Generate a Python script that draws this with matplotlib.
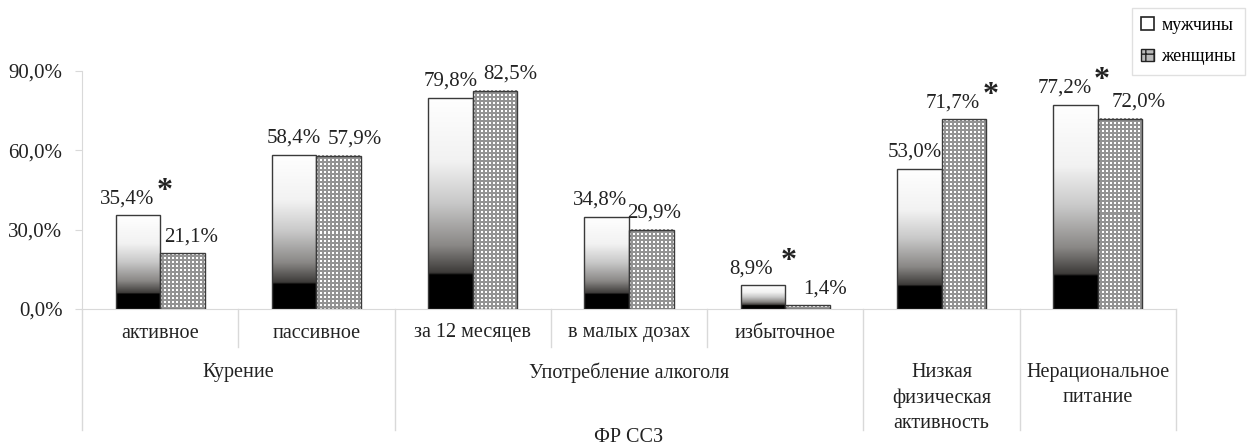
import numpy as np
import matplotlib
matplotlib.use("Agg")
import matplotlib.pyplot as plt
import matplotlib.transforms as mtransforms
from matplotlib.colors import LinearSegmentedColormap
from matplotlib.patches import Patch
from matplotlib.lines import Line2D

plt.rcParams['font.family'] = ['Liberation Serif', 'DejaVu Serif']
plt.rcParams['hatch.linewidth'] = 1.0

# ---- data ----
categories = ["активное", "пассивное", "за 12 месяцев", "в малых дозах", "избыточное",
              "Низкая\nфизическая\nактивность", "Нерациональное\nпитание"]
groups = ["Курение", "Употребление алкоголя"]
group_members = [[0, 1], [2, 3, 4]]
men = [35.4, 58.4, 79.8, 34.8, 8.9, 53.0, 77.2]
women = [21.1, 57.9, 82.5, 29.9, 1.4, 71.7, 72.0]
men_sig = [True, False, False, False, True, False, True]
women_sig = [False, False, False, False, False, True, False]
yticks = [0, 30, 60, 90]
series_names = ["мужчины", "женщины"]
xlabel = "ФР ССЗ"

# label nudges (pixels)
men_dx = [-11, 0, 0, -7, -12, -4, -11]
women_dx = [9, 16, 15, 3, 17, -11, 19]

W, H = 1248, 447
fig = plt.figure(figsize=(W / 100, H / 100), dpi=100)
ax = fig.add_axes([82 / W, (H - 309) / H, (1176 - 82) / W, (309 - 71) / H])
n = len(categories)
x = np.arange(n)
bw = 0.285
ax.set_xlim(-0.5, n - 0.5)
ax.set_ylim(0, 90)

grid_c = '#d9d9d9'
edge_c = '#3a3a3a'

# gradient for men bars
cmap = LinearSegmentedColormap.from_list(
    'g', [(0.0, '#000000'), (0.16, '#000000'), (0.17, '#3c3a38'), (0.3, '#8a8886'),
          (0.5, '#c8c8c8'), (0.7, '#f2f2f2'), (1.0, '#ffffff')])
grad = np.linspace(0, 1, 256).reshape(-1, 1)
for xi, v in zip(x, men):
    ax.imshow(grad, cmap=cmap, origin='lower', aspect='auto',
              extent=(xi - bw, xi, 0, v), zorder=2, interpolation='bilinear')
ax.bar(x - bw / 2, men, width=bw, facecolor='none', edgecolor=edge_c, linewidth=1.0, zorder=3)

# dotted texture for women bars
px_per_x = (1176 - 82) / n
px_per_y = (309 - 71) / 90.0
for xi, v in zip(x, women):
    wpx = max(int(round(bw * px_per_x)), 1)
    hpx = max(int(round(v * px_per_y)), 1)
    rr, cc = np.mgrid[0:hpx, 0:wpx]
    tex = np.where(((rr % 4) < 2) & ((cc % 4) < 2), 1.0, 0.58)
    ax.imshow(tex, cmap='gray', vmin=0, vmax=1, origin='upper', aspect='auto',
              extent=(xi, xi + bw, 0, v), zorder=2, interpolation='nearest')
ax.bar(x + bw / 2, women, width=bw, facecolor='none', edgecolor=edge_c,
       linewidth=1.0, zorder=3)
# restore limits after imshow
ax.set_xlim(-0.5, n - 0.5)
ax.set_ylim(0, 90)

# axes style
for s in ['top', 'right']:
    ax.spines[s].set_visible(False)
ax.spines['left'].set_color(grid_c)
ax.spines['bottom'].set_color(grid_c)
ax.set_yticks(yticks)
ax.set_yticklabels([f"{t:.1f}%".replace('.', ',') for t in yticks], fontsize=15, color='#222222')
ax.tick_params(axis='y', colors=grid_c, length=5, labelcolor='#222222', pad=9)
ax.set_xticks([])

# value labels
def fmt(v):
    return f"{v:.1f}%".replace('.', ',')

for i in range(n):
    for vals, dxs, sig, off in ((men, men_dx, men_sig, -bw / 2), (women, women_dx, women_sig, bw / 2)):
        ax.annotate(fmt(vals[i]), xy=(x[i] + off, vals[i]), xytext=(dxs[i] * 0.72, 5),
                    textcoords='offset points', ha='center', va='bottom',
                    fontsize=15, color='#222222', zorder=5)
        if sig[i]:
            ax.annotate('*', xy=(x[i] + off, vals[i]), xytext=(dxs[i] * 0.72 + 27, 7),
                        textcoords='offset points', ha='center', va='bottom',
                        fontsize=23, fontweight='bold', color='#222222', zorder=5)

# category labels and separators
trans = mtransforms.blended_transform_factory(ax.transData, fig.transFigure)
def fy(py):
    return (H - py) / H

for i, c in enumerate(categories):
    if '\n' in c:
        ax.text(x[i], fy(363), c, transform=trans, ha='center', va='top',
                fontsize=14.5, linespacing=1.45, color='#222222')
    else:
        ax.text(x[i], fy(333), c, transform=trans, ha='center', va='center',
                fontsize=14.5, color='#222222')

for g, mem in zip(groups, group_members):
    ax.text(np.mean([x[m] for m in mem]), fy(373), g, transform=trans, ha='center',
            va='center', fontsize=14.5, color='#222222')

long_b = {-0.5}
for mem in group_members:
    long_b.add(mem[0] - 0.5)
    long_b.add(mem[-1] + 0.5)
for i in range(n):
    if not any(i in mem for mem in group_members):
        long_b.add(i - 0.5)
        long_b.add(i + 0.5)
for b in np.arange(-0.5, n, 1.0):
    y1 = fy(430) if b in long_b else fy(347)
    ax.add_line(Line2D([b, b], [fy(309), y1], transform=trans, color=grid_c,
                       linewidth=1.0, clip_on=False))

fig.text((82 + 1176) / 2 / W, fy(437), xlabel, ha='center', va='center',
         fontsize=14.5, color='#222222')

# legend
handles = [Patch(facecolor='white', edgecolor='#222222', linewidth=1.2),
           Patch(facecolor='#bbbbbb', edgecolor='#222222', hatch='++', linewidth=1.0)]
leg = fig.legend(handles, series_names, loc='upper right',
                 bbox_to_anchor=(1245 / W, 1 - 8 / H), frameon=True, fancybox=False,
                 fontsize=13, handlelength=0.7, handleheight=0.7, handletextpad=0.4,
                 labelspacing=0.8, borderpad=0.5, borderaxespad=0)
leg.get_frame().set_edgecolor(grid_c)
leg.get_frame().set_linewidth(1.0)

fig.savefig('out.png', dpi=100)
